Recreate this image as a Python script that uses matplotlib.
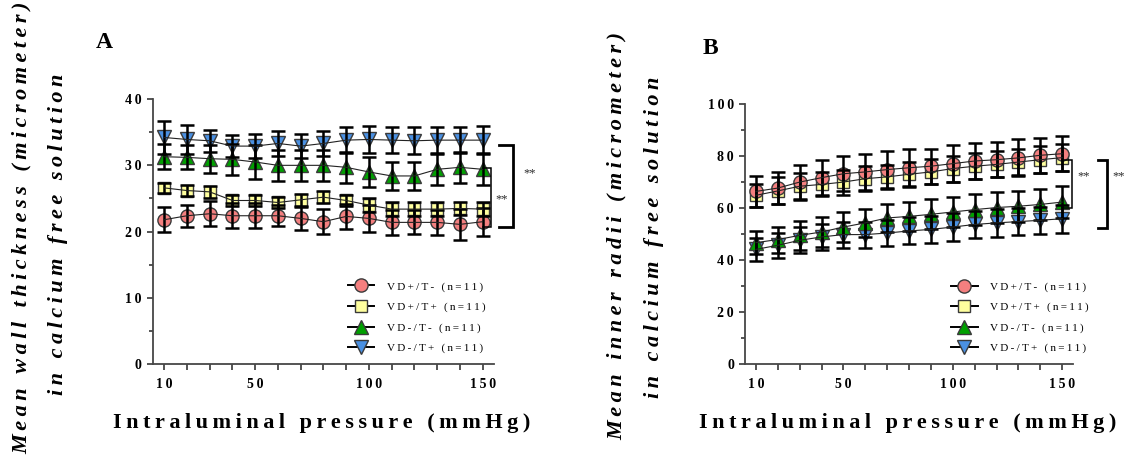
import matplotlib
matplotlib.use('Agg')
import matplotlib.pyplot as plt
from matplotlib.lines import Line2D
from matplotlib.ticker import FixedLocator, NullFormatter

plt.rcParams['font.family'] = ['Liberation Serif', 'DejaVu Serif']

# ---------------- data ----------------
pressure = [10, 20, 30, 40, 50, 60, 70, 80, 90, 100, 110, 120, 130, 140, 150]
group_labels = ['VD+/T- (n=11)', 'VD+/T+ (n=11)', 'VD-/T- (n=11)', 'VD-/T+ (n=11)']

# Panel A: mean wall thickness (micrometer)
wall_vdp_tm = [21.8, 22.4, 22.7, 22.4, 22.4, 22.4, 22.0, 21.5, 22.3, 22.0, 21.4, 21.4, 21.4, 21.1, 21.5]
wall_vdp_tm_sem = [1.9, 1.65, 1.9, 1.85, 1.85, 1.6, 1.75, 1.9, 1.9, 2.0, 1.9, 1.8, 1.9, 2.3, 2.1]
wall_vdp_tp = [26.6, 26.2, 26.0, 24.7, 24.7, 24.4, 24.8, 25.2, 24.7, 24.0, 23.4, 23.4, 23.4, 23.5, 23.4]
wall_vdp_tp_sem = [0.8, 0.8, 0.9, 0.8, 0.9, 0.9, 0.9, 0.9, 0.9, 1.0, 1.0, 1.1, 1.0, 1.0, 1.0]
wall_vdm_tm = [31.3, 31.2, 31.0, 30.9, 30.5, 30.0, 30.0, 30.0, 29.7, 29.0, 28.4, 28.4, 29.4, 29.7, 29.4]
wall_vdm_tm_sem = [1.9, 1.8, 2.1, 2.3, 2.5, 2.3, 2.3, 2.3, 2.3, 2.3, 2.1, 2.1, 2.3, 2.3, 2.4]
wall_vdm_tp = [34.2, 33.9, 33.7, 32.9, 32.9, 33.3, 32.9, 33.3, 33.8, 33.9, 33.8, 33.7, 33.8, 33.8, 33.8]
wall_vdm_tp_sem = [2.45, 2.25, 1.7, 1.7, 1.85, 1.85, 1.85, 1.85, 1.95, 2.05, 1.95, 2.05, 1.95, 1.95, 2.1]

# Panel B: mean inner radii (micrometer)
rad_vdp_tm = [66.5, 67.8, 70.1, 71.8, 73.3, 74.0, 74.9, 75.6, 76.2, 77.2, 78.2, 78.7, 79.4, 80.4, 81.0]
rad_vdp_tm_sem = [5.9, 6.2, 6.4, 6.7, 6.7, 6.8, 7.0, 7.1, 6.8, 7.0, 6.9, 6.8, 7.1, 6.8, 6.7]
rad_vdp_tp = [65.0, 66.7, 68.5, 69.2, 70.1, 71.4, 72.1, 73.1, 74.0, 75.3, 76.2, 76.9, 77.8, 78.7, 79.5]
rad_vdp_tp_sem = [4.5, 5.2, 5.2, 4.6, 4.8, 4.9, 4.5, 4.9, 4.8, 5.0, 5.0, 5.0, 5.0, 5.2, 5.2]
rad_vdm_tm = [46.8, 48.0, 49.6, 50.9, 52.8, 54.4, 56.3, 56.9, 57.7, 58.6, 59.5, 60.3, 60.8, 61.5, 62.4]
rad_vdm_tm_sem = [4.5, 5.0, 5.5, 5.8, 5.6, 5.5, 5.3, 5.6, 5.8, 5.8, 5.9, 5.8, 5.9, 6.0, 6.0]
rad_vdm_tp = [44.2, 45.8, 47.7, 49.0, 49.9, 49.9, 50.5, 51.3, 51.9, 52.8, 53.8, 54.4, 54.9, 55.4, 56.0]
rad_vdm_tp_sem = [4.5, 4.8, 5.0, 5.0, 5.0, 5.0, 5.0, 5.2, 5.3, 5.3, 5.3, 5.3, 5.3, 5.3, 5.3]

# significance brackets: (x_vertical, x_start, y_low, y_high, x_star, y_star, label, thick)
brackets_a = [(153.5, 150, 20.75, 29.6, 155.8, 24.8, '**', False),
              (163.2, 157.0, 20.75, 33.1, 168.0, 28.8, '**', True)]
brackets_b = [(154.6, 150, 60.2, 78.6, 157.2, 72.2, '**', False),
              (170.3, 166.2, 52.5, 78.6, 173.2, 72.2, '**', True)]

# ---------------- style ----------------
styles = [
    dict(marker='o', mfc='#F47F7F', ms=9.5),
    dict(marker='s', mfc='#FFFF9E', ms=9.0),
    dict(marker='^', mfc='#00A000', ms=10.5),
    dict(marker='v', mfc='#4A90E2', ms=10.5),
]
EDGE = '#3a3a3a'
AXC = '#474747'


def sp(s):
    return '\u2009'.join(s)


fig = plt.figure(figsize=(11.28, 4.55), dpi=100)
axA = fig.add_axes([0.1355, 0.1993, 0.3025, 0.5831])
axB = fig.add_axes([0.6605, 0.1993, 0.2908, 0.5714])


def draw(ax, means, sems, ymax, ymajor, yminor, brackets):
    order = [3, 2, 1, 0]
    for i in order:
        st = styles[i]
        ax.plot(pressure, means[i], linestyle='none', marker=st['marker'],
                mfc=st['mfc'], mec=EDGE, mew=1.0, ms=st['ms'], zorder=2 + 0.1 * (3 - i))
        ax.errorbar(pressure, means[i], yerr=sems[i], fmt='none', ecolor='black',
                    elinewidth=1.8, capsize=4.8, capthick=1.8, zorder=3)
        ax.plot(pressure, means[i], color='#222222', lw=0.8, zorder=4)
    ax.set_xlim(5, 155)
    ax.set_ylim(0, ymax)
    for s in ['top', 'right']:
        ax.spines[s].set_visible(False)
    for s in ['left', 'bottom']:
        ax.spines[s].set_color(AXC)
        ax.spines[s].set_linewidth(1.3)
    ax.xaxis.set_major_locator(FixedLocator([10, 50, 100, 150]))
    ax.xaxis.set_minor_locator(FixedLocator([p for p in pressure if p not in (10, 50, 100, 150)]))
    ax.xaxis.set_minor_formatter(NullFormatter())
    ax.yaxis.set_major_locator(FixedLocator(ymajor))
    ax.yaxis.set_minor_locator(FixedLocator(yminor))
    ax.tick_params(axis='x', which='both', length=4.5, width=1.3, color=AXC, pad=5,
                   labelsize=10)
    ax.tick_params(axis='y', which='major', length=4.5, width=1.3, color=AXC, pad=3.5,
                   labelsize=10)
    ax.tick_params(axis='y', which='minor', length=2.6, width=1.3, color=AXC)
    ax.set_xticklabels([sp(str(v)) for v in [10, 50, 100, 150]])
    ax.set_yticklabels([sp(str(v)) for v in ymajor])
    for lab in ax.get_xticklabels() + ax.get_yticklabels():
        lab.set_fontweight('bold')
    for (xv, xs, yl, yh, xst, yst, lab, thick) in brackets:
        ax.plot([xs, xv, xv, xs], [yh, yh, yl, yl], color='black',
                lw=2.0 if thick else 1.1, clip_on=False, solid_joinstyle='miter', zorder=5)
        ax.text(xst, yst, lab, ha='left', va='center', fontsize=9, color='#2a2a2a',
                clip_on=False)
    handles = [Line2D([], [], color='black', lw=1.4, marker=st['marker'], mfc=st['mfc'],
                      mec=EDGE, mew=1.0, ms=st['ms']) for st in styles]
    ax.legend(handles, [sp(g) for g in group_labels], frameon=False, fontsize=8,
              handlelength=2.4, handletextpad=1.1, labelspacing=0.95,
              borderpad=0, borderaxespad=0)


draw(axA, [wall_vdp_tm, wall_vdp_tp, wall_vdm_tm, wall_vdm_tp],
     [wall_vdp_tm_sem, wall_vdp_tp_sem, wall_vdm_tm_sem, wall_vdm_tp_sem],
     40, [0, 10, 20, 30, 40], [5, 15, 25, 35], brackets_a)
draw(axB, [rad_vdp_tm, rad_vdp_tp, rad_vdm_tm, rad_vdm_tp],
     [rad_vdp_tm_sem, rad_vdp_tp_sem, rad_vdm_tm_sem, rad_vdm_tp_sem],
     100, [0, 20, 40, 60, 80, 100], [10, 30, 50, 70, 90], brackets_b)

legA = axA.get_legend()
legA.set_bbox_to_anchor((0.571, 0.312), transform=axA.transAxes)
legA._loc = 2
legB = axB.get_legend()
legB.set_bbox_to_anchor((0.628, 0.318), transform=axB.transAxes)
legB._loc = 2

# panel letters
fig.text(96 / 1128, 1 - 48 / 455, 'A', fontsize=17, fontweight='bold', ha='left', va='baseline')
fig.text(703 / 1128, 1 - 54 / 455, 'B', fontsize=17, fontweight='bold', ha='left', va='baseline')

# axis labels
xl_kw = dict(fontsize=16, fontweight='bold', ha='center', va='center')
fig.text(322 / 1128, 1 - 423 / 455, sp('Intraluminal pressure (mmHg)'), **xl_kw)
fig.text(908 / 1128, 1 - 423 / 455, sp('Intraluminal pressure (mmHg)'), **xl_kw)

yl_kw = dict(fontsize=16, fontweight='bold', fontstyle='italic', ha='center', va='center',
             rotation=90)
fig.text(22 / 1128, 1 - 228 / 455, sp('Mean wall thickness (micrometer)'), **yl_kw)
fig.text(58 / 1128, 1 - 234 / 455, sp('in calcium free solution'), **yl_kw)
fig.text(617 / 1128, 1 - 236 / 455, sp('Mean inner radii (micrometer)'), **yl_kw)
fig.text(654 / 1128, 1 - 237 / 455, sp('in calcium free solution'), **yl_kw)

fig.savefig('out.png', dpi=100)
